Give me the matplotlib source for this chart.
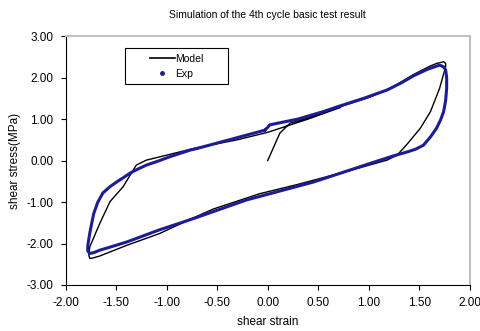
import numpy as np
import matplotlib.pyplot as plt
from matplotlib.lines import Line2D
from matplotlib.patches import Rectangle
from matplotlib.ticker import FormatStrFormatter

plt.rcParams['font.family'] = ['Liberation Sans', 'DejaVu Sans']

exp_strain = [-0.03, 0.0, 0.02, 0.30, 0.55, 0.72, 0.95, 1.18, 1.32, 1.44, 1.58, 1.70,
              1.74, 1.76, 1.77, 1.77, 1.76, 1.74, 1.71, 1.67, 1.61, 1.54, 1.46, 1.37,
              1.24, 1.00, 0.45, -0.21, -0.70, -0.87, -1.07, -1.39, -1.55, -1.66, -1.72,
              -1.76, -1.78, -1.78, -1.77, -1.76, -1.74, -1.72, -1.68, -1.63, -1.56,
              -1.49, -1.42, -1.36, -1.28, -1.20, -1.08, -0.97, -0.77, -0.70, -0.03]
exp_stress = [0.73, 0.80, 0.86, 1.00, 1.18, 1.32, 1.50, 1.70, 1.87, 2.04, 2.20, 2.30,
              2.26, 2.18, 2.00, 1.74, 1.45, 1.18, 0.98, 0.78, 0.57, 0.37, 0.27, 0.20,
              0.11, -0.08, -0.52, -0.95, -1.37, -1.51, -1.67, -1.96, -2.08, -2.16, -2.22,
              -2.24, -2.18, -2.06, -1.90, -1.75, -1.50, -1.27, -1.00, -0.78, -0.63,
              -0.51, -0.40, -0.30, -0.20, -0.11, -0.01, 0.09, 0.25, 0.29, 0.73]

# model curve
mod_strain = [0.0, 0.12, 0.22, 0.39, 0.72, 1.00, 1.20, 1.44, 1.60, 1.67, 1.74, 1.76, 1.76,
              1.70, 1.61, 1.51, 1.37, 1.28, 1.18, 0.80, 0.29, -0.08, -0.54, -0.77,
              -1.07, -1.39, -1.66, -1.73, -1.76, -1.77, -1.76, -1.66, -1.56, -1.43, -1.30,
              -1.20, -1.00, -0.70, -0.30, 0.0, 0.40, 0.72]
mod_stress = [0.0, 0.66, 0.90, 1.02, 1.30, 1.52, 1.72, 2.07, 2.27, 2.34, 2.38, 2.34, 2.26,
              1.74, 1.18, 0.78, 0.37, 0.13, 0.01, -0.25, -0.58, -0.80, -1.17, -1.42,
              -1.76, -2.04, -2.30, -2.35, -2.36, -2.28, -2.08, -1.51, -0.99, -0.63, -0.11,
              0.01, 0.13, 0.31, 0.50, 0.68, 1.00, 1.28]

blue = '#1c1c96'

fig = plt.figure(figsize=(4.8, 3.31), dpi=100)
ax = fig.add_axes([0.1365, 0.139, 0.8425, 0.752])

ax.plot(mod_strain, mod_stress, color='black', lw=1.0, zorder=1)
ax.plot(exp_strain, exp_stress, color=blue, lw=2.2, solid_joinstyle='round', zorder=2)

ax.set_xlim(-2, 2)
ax.set_ylim(-3, 3)
ax.set_xticks(np.arange(-2, 2.01, 0.5))
ax.set_yticks(np.arange(-3, 3.01, 1))
ax.xaxis.set_major_formatter(FormatStrFormatter('%.2f'))
ax.yaxis.set_major_formatter(FormatStrFormatter('%.2f'))
ax.tick_params(labelsize=8.5, direction='out', length=3.6, width=0.8, color='black', pad=5)

for s in ['top', 'right']:
    ax.spines[s].set_color('#c0c0c0')
    ax.spines[s].set_linewidth(1.5)
for s in ['left', 'bottom']:
    ax.spines[s].set_linewidth(0.8)

ax.set_xlabel('shear strain', fontsize=8.5, labelpad=5)
ax.set_ylabel('shear stress(MPa)', fontsize=8.5, labelpad=4)
ax.set_title('Simulation of the 4th cycle basic test result', fontsize=7.5, pad=13)

# legend box drawn like the spreadsheet one: centred entries inside a plain frame
ax.add_patch(Rectangle((0.147, 0.807), 0.255, 0.144, transform=ax.transAxes,
                       facecolor='white', edgecolor='black', lw=0.8, zorder=4))
handles = [Line2D([], [], color='black', lw=1.2),
           Line2D([], [], ls='none', marker='o', ms=2.5, color=blue)]
leg = ax.legend(handles, ['Model', 'Exp'], loc='center', bbox_to_anchor=(0.2745, 0.879),
                fontsize=7.5, frameon=False, handlelength=2.4, handletextpad=0.05,
                borderpad=0, labelspacing=0.5, borderaxespad=0)
leg.set_zorder(5)

fig.savefig('out.png', dpi=100)
